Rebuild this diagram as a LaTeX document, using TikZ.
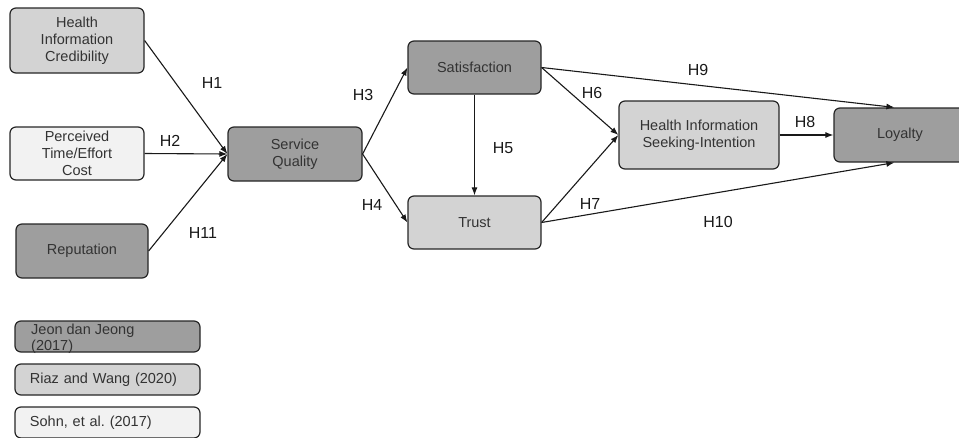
\documentclass[tikz,border=0pt]{standalone}
\usepackage{fontspec}
\setmainfont{Liberation Sans}
\usetikzlibrary{positioning,arrows.meta,calc}
\definecolor{boxdark}{RGB}{158,158,158}
\definecolor{boxlight}{RGB}{211,211,211}
\definecolor{boxpale}{RGB}{242,242,242}
\definecolor{textgray}{RGB}{51,51,51}

\begin{document}
\begin{tikzpicture}[x=1pt, y=-1pt,
    model/.style={draw=black!85, line width=1.2pt, rounded corners=6pt,
        text=textgray, align=center, inner sep=0pt,
        font=\fontsize{14.5}{17}\selectfont},
    darkbox/.style={model, fill=boxdark},
    lightbox/.style={model, fill=boxlight},
    palebox/.style={model, fill=boxpale},
    conn/.style={-{Latex[length=8pt,width=6pt]}, line width=1.1pt, black!90},
    hyp/.style={font=\fontsize{16}{19}\selectfont, text=black!90}]
    \useasboundingbox (0,0) rectangle (959,437);

    % Antecedents
    \node[lightbox, minimum width=134pt, minimum height=65pt] (hic) at (77,40.5) {Health\\Information\\Credibility};
    \node[palebox, minimum width=134pt, minimum height=53pt] (ptec) at (77,153.5) {Perceived\\Time/Effort\\Cost};
    \node[darkbox, minimum width=132pt, minimum height=54pt] (rep) at (82,251) {Reputation};

    % Mediators
    \node[darkbox, minimum width=134pt, minimum height=54pt] (sq) at (295,154) {Service\\Quality};
    \node[darkbox, minimum width=133pt, minimum height=53pt] (sat) at (474.5,67.5) {Satisfaction};
    \node[lightbox, minimum width=133pt, minimum height=53pt] (trust) at (474.5,222.5) {Trust};
    \node[lightbox, minimum width=160pt, minimum height=68pt] (hisi) at (699,135) {Health Information\\Seeking-Intention};

    % Outcome
    \node[darkbox, minimum width=132pt, minimum height=54pt] (loyal) at (900,135) {Loyalty};
    \coordinate (loyaltop) at ([xshift=61pt]loyal.north west);
    \coordinate (loyalbot) at ([xshift=61pt]loyal.south west);

    % Paths
    \draw[conn] (hic.east) -- (sq.west);
    \draw[conn] (ptec.east) -- (sq.west);
    \draw[conn] (rep.east) -- (sq.west);
    \draw[conn] (sq.east) -- (sat.west);
    \draw[conn] (sq.east) -- (trust.west);
    \draw[conn] (sat.south) -- (trust.north);
    \draw[conn] (sat.east) -- (hisi.west);
    \draw[conn] (trust.east) -- (hisi.west);
    \draw[conn] (sat.east) -- (loyaltop);
    \draw[conn] (hisi.east) -- (loyal.west);
    \draw[conn] (trust.east) -- (loyalbot);

    % Hypotheses
    \node[hyp] (h1) at (212,83) {H1};
    \node[hyp] (h2) at (170,141) {H2};
    \node[hyp] (h11) at (203,233) {H11};
    \node[hyp] (h3) at (363,95) {H3};
    \node[hyp] (h4) at (372,205) {H4};
    \node[hyp] (h5) at (503,148) {H5};
    \node[hyp] (h6) at (592,93) {H6};
    \node[hyp] (h7) at (590,204) {H7};
    \node[hyp] (h9) at (698,70) {H9};
    \node[hyp] (h8) at (805,122) {H8};
    \node[hyp] (h10) at (718,222) {H10};

    % Legend
    \node[darkbox, minimum width=185pt, minimum height=31pt] (leg1) at (107.5,336.5) {};
    \node[anchor=north west, align=left, text=textgray, inner sep=0pt,
        font=\fontsize{14.5}{16.5}\selectfont] (leg1txt) at (31,323.5) {Jeon dan Jeong\\(2017)};
    \node[lightbox, minimum width=185pt, minimum height=31pt, text width=155pt, align=left] (leg2) at (107.5,379.5) {Riaz and Wang (2020)};
    \node[palebox, minimum width=185pt, minimum height=31pt, text width=155pt, align=left] (leg3) at (107.5,422.5) {Sohn, et al.\ (2017)};
\end{tikzpicture}
\end{document}
